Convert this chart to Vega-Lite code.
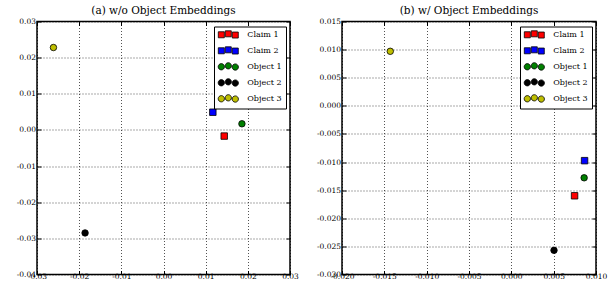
{
  "$schema": "https://vega.github.io/schema/vega-lite/v6.json",
  "padding": {"left": 0, "top": 4.5, "right": 0, "bottom": 0},
  "background": "#ffffff",
  "bounds": "flush",
  "data": {"values": [
    {"panel": "a", "series": "Claim 1", "x": 0.0144, "y": -0.0017},
    {"panel": "a", "series": "Claim 2", "x": 0.0117, "y": 0.0049},
    {"panel": "a", "series": "Object 1", "x": 0.0186, "y": 0.0017},
    {"panel": "a", "series": "Object 2", "x": -0.0186, "y": -0.0285},
    {"panel": "a", "series": "Object 3", "x": -0.0261, "y": 0.0228},
    {"panel": "b", "series": "Claim 1", "x": 0.00747, "y": -0.0160},
    {"panel": "b", "series": "Claim 2", "x": 0.00865, "y": -0.00975},
    {"panel": "b", "series": "Object 1", "x": 0.0086, "y": -0.0128},
    {"panel": "b", "series": "Object 2", "x": 0.00504, "y": -0.0257},
    {"panel": "b", "series": "Object 3", "x": -0.0143, "y": 0.0097}
  ]},
  "spacing": 52,
  "hconcat": [
    {
      "width": 253, "height": 253,
      "title": {"text": "(a) w/o Object Embeddings"},
      "transform": [{"filter": "datum.panel === 'a'"}],
      "layer": [
        {
          "mark": {"type": "point", "filled": true, "stroke": "#000", "strokeWidth": 0.8, "opacity": 1, "size": 42,
            "shape": {"expr": "indexof(datum.series, 'Claim') === 0 ? 'square' : 'circle'"}},
          "encoding": {
            "x": {"field": "x", "type": "quantitative",
              "scale": {"domain": [-0.03, 0.03], "nice": false, "zero": false},
              "axis": {"values": [-0.03, -0.02, -0.01, 0, 0.01, 0.02, 0.03], "labelPadding": 2, "labelExpr": "replace(format(datum.value, '.2f'), '\u2212', '-')"}},
            "y": {"field": "y", "type": "quantitative",
              "scale": {"domain": [-0.04, 0.03], "nice": false, "zero": false},
              "axis": {"values": [-0.04, -0.03, -0.02, -0.01, 0, 0.01, 0.02, 0.03], "labelPadding": 5.5, "labelExpr": "replace(format(datum.value, '.2f'), '\u2212', '-')", "minExtent": 36, "maxExtent": 36}},
            "color": {"field": "series", "type": "nominal",
              "scale": {"domain": ["Claim 1", "Claim 2", "Object 1", "Object 2", "Object 3"], "range": ["#ff0000", "#0000ff", "#008000", "#000000", "#bfbf00"]},
              "legend": {"title": null, "orient": "top-right", "offset": 4.5, "padding": 4, "strokeColor": "#000", "fillColor": "#fff", "cornerRadius": 0,
                "labelFont": "DejaVu Serif", "labelFontSize": 8, "labelColor": "#000", "symbolSize": 30, "symbolStrokeColor": "#000", "symbolStrokeWidth": 0.8,
                "symbolOffset": 6.3, "labelOffset": 15, "rowPadding": 4, "symbolOpacity": 1,
                "symbolType": {"expr": "indexof(datum.value, 'Claim') === 0 ? 'M-3.65,-1 h2.2 v2.2 h-2.2 Z M-1.1,-1.35 h2.2 v2.2 h-2.2 Z M1.45,-0.9 h2.2 v2.2 h-2.2 Z' : 'M-1.4,0.1 A1.15,1.15 0 1,1 -3.7,0.1 A1.15,1.15 0 1,1 -1.4,0.1 Z M1.15,-0.25 A1.15,1.15 0 1,1 -1.15,-0.25 A1.15,1.15 0 1,1 1.15,-0.25 Z M3.7,0.2 A1.15,1.15 0 1,1 1.4,0.2 A1.15,1.15 0 1,1 3.7,0.2 Z'"}}}
          }
        },
        {
          "mark": {"type": "point", "opacity": 0},
          "encoding": {
            "x": {"field": "x", "type": "quantitative",
              "axis": {"orient": "top", "values": [-0.03, -0.02, -0.01, 0, 0.01, 0.02, 0.03], "labels": false, "grid": false}},
            "y": {"field": "y", "type": "quantitative",
              "axis": {"orient": "right", "values": [-0.04, -0.03, -0.02, -0.01, 0, 0.01, 0.02, 0.03], "labels": false, "grid": false}}
          }
        }
      ],
      "resolve": {"axis": {"x": "independent", "y": "independent"}}
    },
    {
      "width": 254, "height": 253,
      "title": {"text": "(b) w/ Object Embeddings"},
      "transform": [{"filter": "datum.panel === 'b'"}],
      "layer": [
        {
          "mark": {"type": "point", "filled": true, "stroke": "#000", "strokeWidth": 0.8, "opacity": 1, "size": 42,
            "shape": {"expr": "indexof(datum.series, 'Claim') === 0 ? 'square' : 'circle'"}},
          "encoding": {
            "x": {"field": "x", "type": "quantitative",
              "scale": {"domain": [-0.02, 0.01], "nice": false, "zero": false},
              "axis": {"values": [-0.02, -0.015, -0.01, -0.005, 0, 0.005, 0.01], "labelPadding": 2, "labelExpr": "replace(format(datum.value, '.3f'), '\u2212', '-')"}},
            "y": {"field": "y", "type": "quantitative",
              "scale": {"domain": [-0.03, 0.015], "nice": false, "zero": false},
              "axis": {"values": [-0.03, -0.025, -0.02, -0.015, -0.01, -0.005, 0, 0.005, 0.01, 0.015], "labelPadding": 5.5, "labelExpr": "replace(format(datum.value, '.3f'), '\u2212', '-')", "minExtent": 36, "maxExtent": 36}},
            "color": {"field": "series", "type": "nominal",
              "scale": {"domain": ["Claim 1", "Claim 2", "Object 1", "Object 2", "Object 3"], "range": ["#ff0000", "#0000ff", "#008000", "#000000", "#bfbf00"]},
              "legend": {"title": null, "orient": "top-right", "offset": 4.5, "padding": 4, "strokeColor": "#000", "fillColor": "#fff", "cornerRadius": 0,
                "labelFont": "DejaVu Serif", "labelFontSize": 8, "labelColor": "#000", "symbolSize": 30, "symbolStrokeColor": "#000", "symbolStrokeWidth": 0.8,
                "symbolOffset": 6.3, "labelOffset": 15, "rowPadding": 4, "symbolOpacity": 1,
                "symbolType": {"expr": "indexof(datum.value, 'Claim') === 0 ? 'M-3.65,-1 h2.2 v2.2 h-2.2 Z M-1.1,-1.35 h2.2 v2.2 h-2.2 Z M1.45,-0.9 h2.2 v2.2 h-2.2 Z' : 'M-1.4,0.1 A1.15,1.15 0 1,1 -3.7,0.1 A1.15,1.15 0 1,1 -1.4,0.1 Z M1.15,-0.25 A1.15,1.15 0 1,1 -1.15,-0.25 A1.15,1.15 0 1,1 1.15,-0.25 Z M3.7,0.2 A1.15,1.15 0 1,1 1.4,0.2 A1.15,1.15 0 1,1 3.7,0.2 Z'"}}}
          }
        },
        {
          "mark": {"type": "point", "opacity": 0},
          "encoding": {
            "x": {"field": "x", "type": "quantitative",
              "axis": {"orient": "top", "values": [-0.02, -0.015, -0.01, -0.005, 0, 0.005, 0.01], "labels": false, "grid": false}},
            "y": {"field": "y", "type": "quantitative",
              "axis": {"orient": "right", "values": [-0.03, -0.025, -0.02, -0.015, -0.01, -0.005, 0, 0.005, 0.01, 0.015], "labels": false, "grid": false}}
          }
        }
      ],
      "resolve": {"axis": {"x": "independent", "y": "independent"}}
    }
  ],
  "resolve": {"scale": {"color": "independent"}, "legend": {"color": "independent"}},
  "config": {
    "font": "DejaVu Serif",
    "view": {"stroke": "#000", "strokeWidth": 1.5},
    "title": {"font": "DejaVu Serif", "fontSize": 10.5, "fontWeight": "normal", "color": "#000", "offset": 1, "anchor": "middle"},
    "axis": {"title": null, "domain": false, "grid": true, "gridColor": "#000", "gridDash": [1, 2], "gridWidth": 0.8, "gridOpacity": 0.85,
      "ticks": true, "tickColor": "#000", "tickSize": -4, "tickWidth": 1,
      "labelFont": "DejaVu Serif", "labelFontSize": 7.5, "labelColor": "#000", "labelFlush": false, "labelOverlap": false, "labelBound": false}
  }
}
